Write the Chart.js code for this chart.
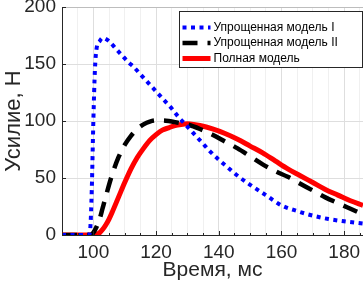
<!DOCTYPE html>
<html>
<head>
<meta charset="utf-8">
<script src="https://cdn.jsdelivr.net/npm/chart.js@4.4.1/dist/chart.umd.min.js"></script>
<style>
  html, body { margin: 0; padding: 0; background: #fff; }
  #grafik { display: block; }
</style>
</head>
<body>
<canvas id="grafik" width="363" height="289"></canvas>
<script>
// Упрощенная модель I
const vremyaM1 = [90, 98, 98.5, 99, 99.5, 100, 100.5, 101, 102, 103, 104, 105, 107, 109, 111, 113, 115, 117, 119, 121, 123, 125, 127, 129, 131, 133, 135, 137, 140, 143, 146, 150, 155, 160, 165, 170, 175, 180, 186];
const usilieM1 = [0, 0, 0, 5, 40, 100, 145, 163, 170, 173, 172, 170, 164, 158, 152, 147, 141, 135, 129, 123, 117, 111, 104, 98, 92, 86, 80, 74, 66, 59, 52, 44, 35, 26, 21, 17, 14, 12, 10];

// Упрощенная модель II
const vremyaM2 = [90, 99, 100, 101, 102, 103, 104, 105, 106, 108, 110, 112, 114, 116, 118, 120, 122, 124, 126, 128, 130, 134, 138, 142, 146, 150, 154, 158, 162, 166, 170, 174, 178, 182, 186];
const usilieM2 = [0, 0, 2, 7, 14, 24, 34, 44, 53, 68, 79, 87, 93, 97, 99.5, 100.5, 100.5, 100, 99, 98, 97, 93, 88, 82, 76, 69, 62, 56, 51, 45, 39, 33, 28, 23, 18];

// Полная модель
const vremyaM3 = [90, 100, 101, 102, 103, 104, 105, 106, 108, 110, 112, 114, 116, 118, 120, 122, 124, 126, 128, 130, 132, 134, 138, 142, 146, 150, 154, 158, 162, 166, 170, 174, 178, 182, 186];
const usilieM3 = [0, 0, 0.5, 2, 5, 9, 14, 20, 33, 46, 58, 68, 76, 83, 88, 92, 94, 96, 97, 97.5, 97, 96, 93, 89, 84, 78, 72, 65, 58, 52, 46, 40, 35, 30, 26];

const nazvaniya = ['Упрощенная модель I', 'Упрощенная модель II', 'Полная модель'];
const osX = { min: 90, max: 186, shag: 5, glavnyi: 20 };
const osY = { min: 0, max: 200, shag: 50 };

const tsvetTeksta = '#262626';
const shrift = 'Liberation Sans, Arial, Helvetica, sans-serif';

function tochki(vr, us) {
    return vr.map((t, i) => ({ x: t, y: us[i] }));
}

// засечки внутрь, как в MATLAB
const zasechki = {
    id: 'zasechki',
    afterDatasetsDraw(chart) {
        const ctx = chart.ctx;
        const sx = chart.scales.x, sy = chart.scales.y;
        const a = chart.chartArea;
        ctx.save();
        ctx.strokeStyle = tsvetTeksta;
        ctx.lineWidth = 1;
        ctx.beginPath();
        sx.ticks.forEach(t => {
            const px = Math.round(sx.getPixelForValue(t.value)) + 0.5;
            const dl = t.value % osX.glavnyi === 0 ? 4 : 2;
            ctx.moveTo(px, a.bottom);
            ctx.lineTo(px, a.bottom - dl);
        });
        sy.ticks.forEach(t => {
            const py = Math.round(sy.getPixelForValue(t.value)) + 0.5;
            ctx.moveTo(a.left, py);
            ctx.lineTo(a.left + 4, py);
        });
        ctx.stroke();
        ctx.restore();
    }
};

// легенда в рамке внутри области графика
const legenda = {
    id: 'legenda',
    afterDraw(chart) {
        const ctx = chart.ctx;
        const x0 = 179.5, y0 = 11.5, w = 183, h = 56;
        ctx.save();
        ctx.fillStyle = '#ffffff';
        ctx.fillRect(x0, y0, w, h);
        ctx.strokeStyle = tsvetTeksta;
        ctx.lineWidth = 1;
        ctx.strokeRect(x0, y0, w, h);
        chart.data.datasets.forEach((ds, i) => {
            const y = y0 + 16 + i * 15.5;
            ctx.beginPath();
            ctx.strokeStyle = ds.borderColor;
            ctx.lineWidth = ds.borderWidth;
            ctx.setLineDash(ds.borderDash || []);
            ctx.moveTo(x0 + 3, y);
            ctx.lineTo(x0 + 31, y);
            ctx.stroke();
            ctx.setLineDash([]);
            ctx.fillStyle = '#000';
            ctx.font = '12px ' + shrift;
            ctx.textBaseline = 'middle';
            ctx.fillText(ds.label, x0 + 34, y);
        });
        ctx.restore();
    }
};

const grafik = new Chart(document.getElementById('grafik').getContext('2d'), {
    type: 'line',
    data: {
        datasets: [
            {
                label: nazvaniya[0],
                data: tochki(vremyaM1, usilieM1),
                borderColor: '#0000ff',
                borderWidth: 4,
                borderDash: [4, 4.5],
                pointRadius: 0,
                cubicInterpolationMode: 'monotone',
                fill: false,
                order: 1,
            },
            {
                label: nazvaniya[1],
                data: tochki(vremyaM2, usilieM2),
                borderColor: '#000000',
                borderWidth: 4.5,
                borderDash: [15, 10],
                pointRadius: 0,
                cubicInterpolationMode: 'monotone',
                fill: false,
                order: 2,
            },
            {
                label: nazvaniya[2],
                data: tochki(vremyaM3, usilieM3),
                borderColor: '#ff0000',
                borderWidth: 5,
                pointRadius: 0,
                cubicInterpolationMode: 'monotone',
                fill: false,
                order: 3,
            },
        ],
    },
    options: {
        responsive: false,
        animation: false,
        devicePixelRatio: 1,
        layout: { padding: { top: 7, right: 0, left: 0, bottom: 0 } },
        plugins: {
            legend: { display: false },
            tooltip: { enabled: false },
        },
        scales: {
            x: {
                type: 'linear',
                min: osX.min,
                max: osX.max,
                afterBuildTicks: (os) => {
                    const t = [];
                    for (let v = osX.min; v <= osX.max; v += osX.shag) t.push({ value: v });
                    os.ticks = t;
                },
                afterFit: (os) => {
                    os.height = 54;
                    os.paddingLeft = 0;
                    os.paddingRight = 0;
                },
                ticks: {
                    autoSkip: false,
                    maxRotation: 0,
                    padding: 6,
                    color: tsvetTeksta,
                    font: { family: shrift, size: 19 },
                    callback: (v) => (v % osX.glavnyi === 0 ? String(v) : ''),
                },
                grid: {
                    drawTicks: false,
                    color: (c) => (c.tick && c.tick.value % osX.glavnyi === 0 ? '#dedede' : '#f0f0f0'),
                },
                border: { color: tsvetTeksta, width: 1 },
                title: {
                    display: true,
                    text: 'Время, мс',
                    color: tsvetTeksta,
                    font: { family: shrift, size: 21 },
                    padding: { top: 0, bottom: 6 },
                },
            },
            y: {
                min: osY.min,
                max: osY.max,
                afterFit: (os) => {
                    os.width = 62;
                    os.paddingTop = 0;
                    os.paddingBottom = 0;
                },
                ticks: {
                    stepSize: osY.shag,
                    padding: 6,
                    color: tsvetTeksta,
                    font: { family: shrift, size: 19 },
                },
                grid: {
                    drawTicks: false,
                    color: (c) => (c.tick && c.tick.value === osY.max ? '#bdbdbd' : '#dedede'),
                },
                border: { color: tsvetTeksta, width: 1 },
                title: {
                    display: true,
                    text: 'Усилие, Н',
                    color: tsvetTeksta,
                    font: { family: shrift, size: 22 },
                    padding: { top: 1, bottom: 0 },
                },
            },
        },
    },
    plugins: [zasechki, legenda],
});
</script>
</body>
</html>
